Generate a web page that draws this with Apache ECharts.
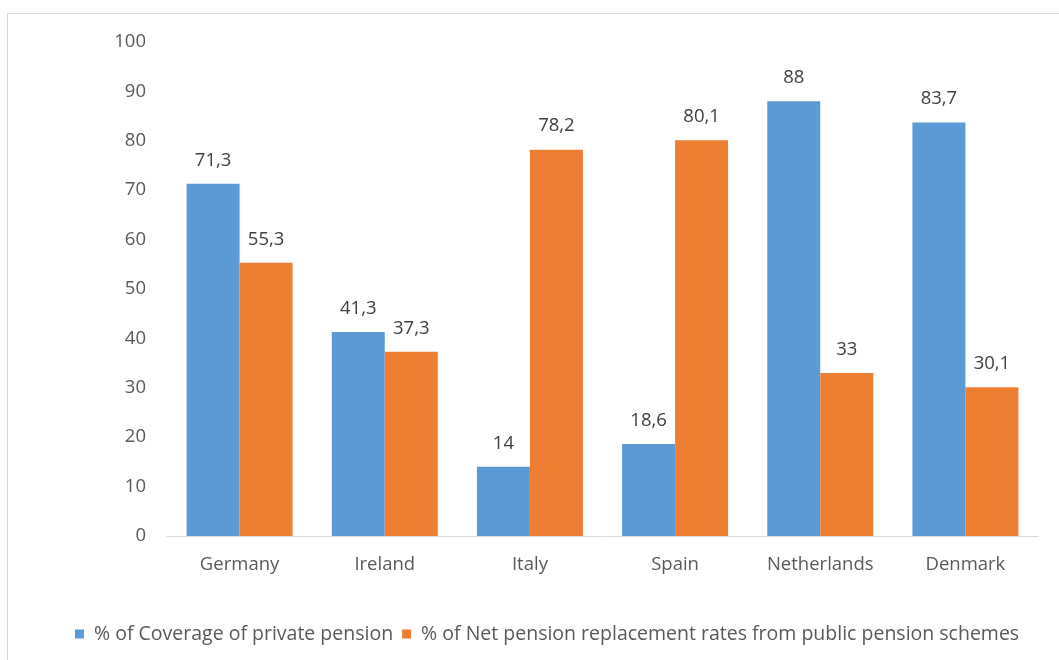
<!DOCTYPE html>
<html>
<head>
<meta charset="utf-8">
<script src="https://cdn.jsdelivr.net/npm/echarts@6/dist/echarts.min.js"></script>
<style>
  html, body { margin: 0; padding: 0; background: #fff; }
  #chart { width: 1059px; height: 660px; }
</style>
</head>
<body>
<div id="chart"></div>
<script>
// Pension indicators by country
const countries = ['Germany', 'Ireland', 'Italy', 'Spain', 'Netherlands', 'Denmark'];
const privateCoverage = [71.3, 41.3, 14, 18.6, 88, 83.7];
const publicReplacement = [55.3, 37.3, 78.2, 80.1, 33, 30.1];
const seriesNames = [
  '% of Coverage of private pension',
  '% of Net pension replacement rates from public pension schemes'
];
const yTicks = { min: 0, max: 100, interval: 10 };

const FONT = '"Open Sans", "Liberation Sans", sans-serif';
const commaDecimal = p => String(p.value).replace('.', ',');

const chart = echarts.init(document.getElementById('chart'), null, { renderer: 'canvas' });

chart.setOption({
  animation: false,
  backgroundColor: '#ffffff',
  textStyle: { fontFamily: FONT },
  graphic: [{
    type: 'rect',
    shape: { x: 7.5, y: 13.5, width: 1060, height: 660 },
    style: { fill: 'none', stroke: '#d9d9d9', lineWidth: 1 },
    silent: true
  }],
  grid: { left: 167, right: 21, top: 42, bottom: 124 },
  legend: {
    left: 70,
    top: 619,
    itemWidth: 9,
    itemHeight: 9,
    itemGap: 9,
    icon: 'rect',
    textStyle: { fontFamily: FONT, fontSize: 19.5, color: '#595959', padding: [0, 0, 0, 5] },
    data: seriesNames
  },
  xAxis: {
    type: 'category',
    data: countries,
    axisLine: { lineStyle: { color: '#d9d9d9', width: 1 } },
    axisTick: { show: false },
    axisLabel: { color: '#595959', fontSize: 18.5, fontFamily: FONT, margin: 19 }
  },
  yAxis: {
    type: 'value',
    min: yTicks.min,
    max: yTicks.max,
    interval: yTicks.interval,
    axisLine: { show: false },
    axisTick: { show: false },
    splitLine: { show: false },
    axisLabel: { color: '#595959', fontSize: 18.5, fontFamily: FONT, margin: 21 }
  },
  series: [
    {
      name: seriesNames[0],
      type: 'bar',
      data: privateCoverage,
      barGap: '0%',
      barCategoryGap: '27%',
      itemStyle: { color: '#5b9bd5' },
      label: {
        show: true, position: 'top', distance: 14,
        color: '#404040', fontSize: 18.5, fontFamily: FONT,
        formatter: commaDecimal
      }
    },
    {
      name: seriesNames[1],
      type: 'bar',
      data: publicReplacement,
      barGap: '0%',
      barCategoryGap: '27%',
      itemStyle: { color: '#ed7d31' },
      label: {
        show: true, position: 'top', distance: 14,
        color: '#404040', fontSize: 18.5, fontFamily: FONT,
        formatter: commaDecimal
      }
    }
  ]
});
</script>
</body>
</html>
